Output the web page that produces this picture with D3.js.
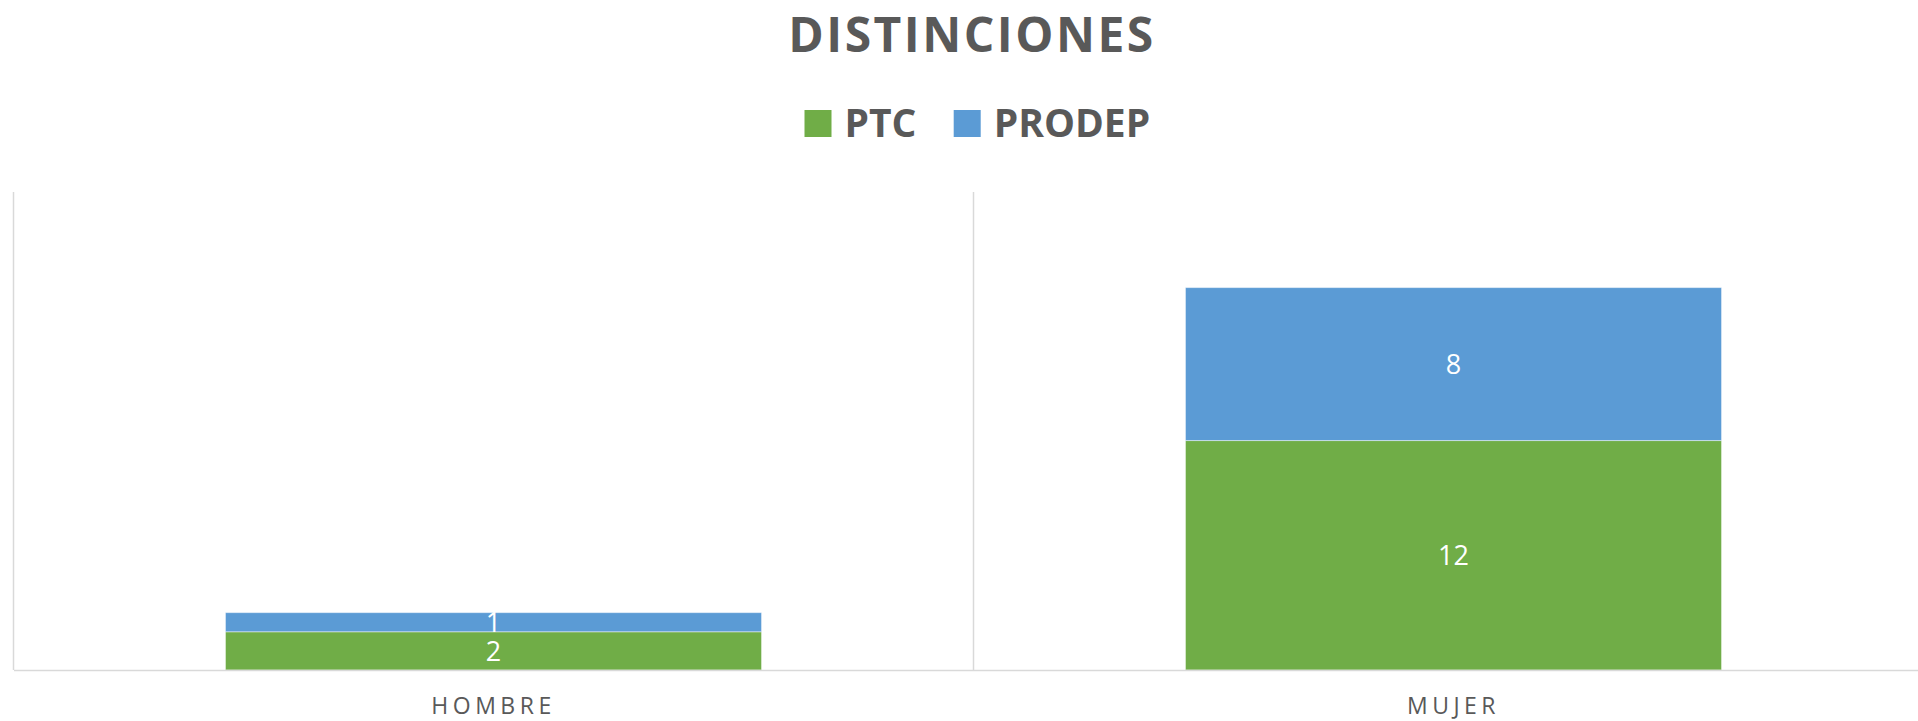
<!DOCTYPE html>
<html>
<head>
<meta charset="utf-8">
<script src="https://cdn.jsdelivr.net/npm/d3@7"></script>
<style>
  html, body { margin: 0; padding: 0; background: #fff; }
  svg { display: block; font-family: "Open Sans", "Noto Sans", sans-serif; }
</style>
</head>
<body>
<svg id="chart" width="1918" height="721"></svg>
<script>
// chart data
const categories = ["HOMBRE", "MUJER"];
const seriesNames = ["PTC", "PRODEP"];
const ptcValues = [2, 12];
const prodepValues = [1, 8];
const yTicks = [0, 5, 10, 15, 20, 25];

const colors = { PTC: "#70AD47", PRODEP: "#5B9BD5" };
const textColor = "#595959";
const gridColor = "#D9D9D9";

const svg = d3.select("#chart");

const plot = { left: 13.5, right: 1933.5, top: 192, bottom: 670 };

// band for the category cells (gridlines) and band for the bars
const xCell = d3.scaleBand().domain(categories).range([plot.left, plot.right]);
const x = d3
  .scaleBand()
  .domain(categories)
  .range([plot.left, plot.right])
  .paddingInner(0.4416)
  .paddingOuter(0.2208);
const y = d3
  .scaleLinear()
  .domain([0, d3.max(yTicks)])
  .range([plot.bottom, plot.top]);

// stacked rows
const rows = categories.map((c, i) => ({
  category: c,
  PTC: ptcValues[i],
  PRODEP: prodepValues[i],
}));
const stacked = d3.stack().keys(seriesNames)(rows);

// vertical category separators
const bounds = categories.map((c) => xCell(c)).concat([plot.right]);
svg
  .append("g")
  .selectAll("line")
  .data(bounds)
  .join("line")
  .attr("x1", (d) => d)
  .attr("x2", (d) => d)
  .attr("y1", plot.top)
  .attr("y2", plot.bottom)
  .attr("stroke", gridColor)
  .attr("stroke-width", 1.5);

// bars
const layers = svg
  .append("g")
  .selectAll("g.layer")
  .data(stacked)
  .join("g")
  .attr("class", "layer")
  .attr("fill", (d) => colors[d.key]);

layers
  .selectAll("rect")
  .data((d) => d)
  .join("rect")
  .attr("x", (d) => x(d.data.category))
  .attr("y", (d) => y(d[1]))
  .attr("width", x.bandwidth())
  .attr("height", (d) => y(d[0]) - y(d[1]))
  .attr("stroke", "rgba(255,255,255,0.45)")
  .attr("stroke-width", 1);

// data labels
layers
  .selectAll("text")
  .data((d) => d)
  .join("text")
  .attr("x", (d) => x(d.data.category) + x.bandwidth() / 2)
  .attr("y", (d) => (y(d[0]) + y(d[1])) / 2)
  .attr("dy", "0.36em")
  .attr("text-anchor", "middle")
  .attr("fill", "#fff")
  .style("font-size", "27px")
  .text((d) => d[1] - d[0]);

// x axis baseline + labels
const xAxis = svg
  .append("g")
  .attr("transform", `translate(0,${plot.bottom})`)
  .call(d3.axisBottom(xCell).tickSize(0).tickPadding(0));
xAxis.select(".domain").attr("stroke", gridColor).attr("stroke-width", 1.5);
xAxis
  .selectAll("text")
  .attr("y", 44)
  .attr("dy", 0)
  .attr("fill", textColor)
  .style("font-family", "'Open Sans', sans-serif")
  .style("font-size", "23px")
  .style("letter-spacing", "4.5px");

// title
svg
  .append("text")
  .attr("x", 972)
  .attr("y", 52)
  .attr("text-anchor", "middle")
  .attr("fill", textColor)
  .style("font-size", "48px")
  .style("font-weight", "bold")
  .style("letter-spacing", "2.5px")
  .text("DISTINCIONES");

// legend
const legendItems = [
  { name: "PTC", x: 804.5 },
  { name: "PRODEP", x: 953.7 },
];
const legend = svg
  .append("g")
  .selectAll("g")
  .data(legendItems)
  .join("g")
  .attr("transform", (d) => `translate(${d.x},110)`);
legend
  .append("rect")
  .attr("width", 27)
  .attr("height", 27)
  .attr("fill", (d) => colors[d.name]);
legend
  .append("text")
  .attr("x", 40)
  .attr("y", 27)
  .attr("fill", textColor)
  .style("font-size", "39px")
  .style("font-weight", "bold")
  .text((d) => d.name);
</script>
</body>
</html>
